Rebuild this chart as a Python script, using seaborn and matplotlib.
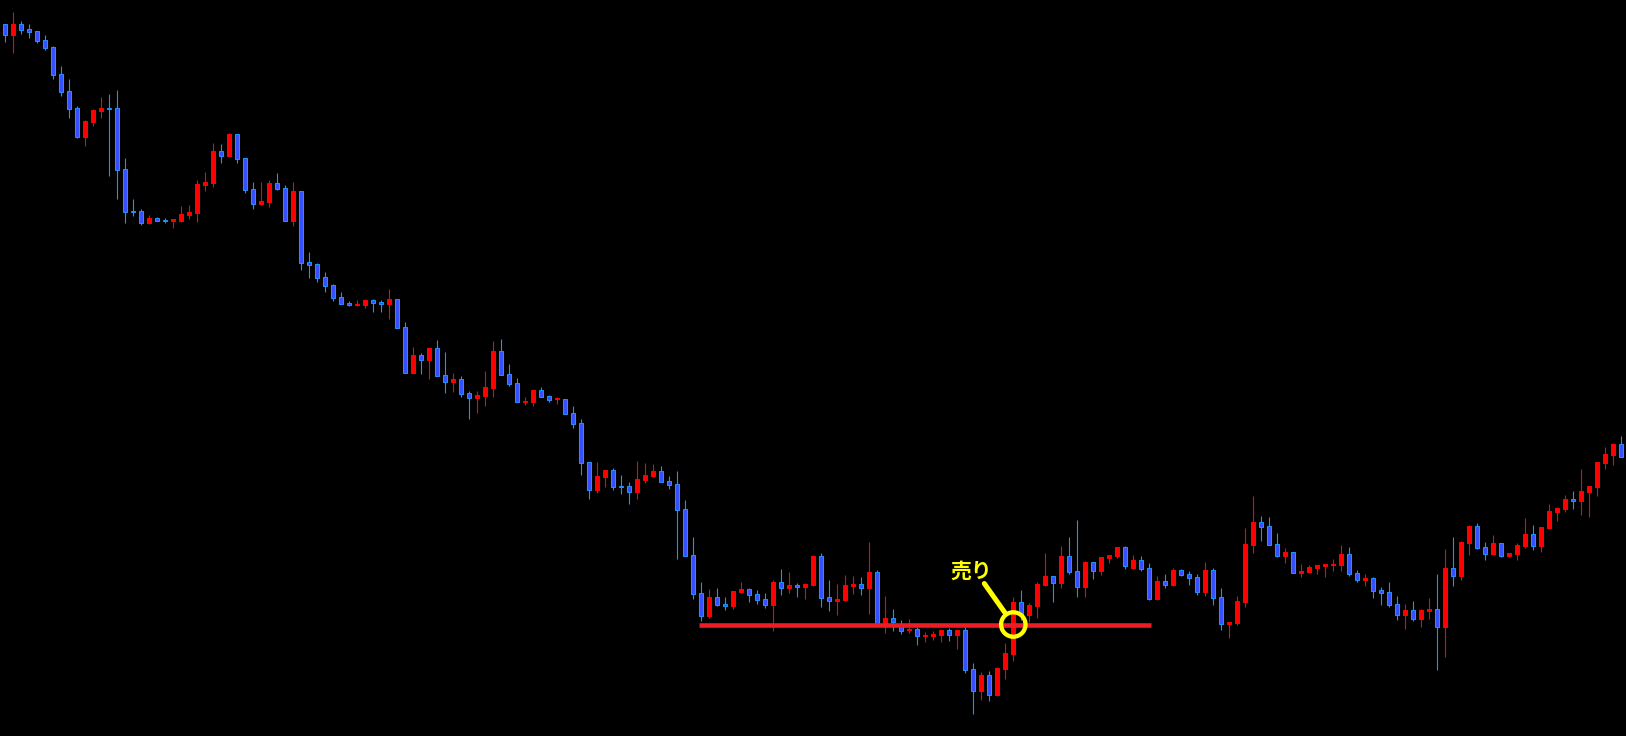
import numpy as np
import pandas as pd
import matplotlib
matplotlib.use("Agg")
import matplotlib.pyplot as plt
import seaborn as sns

sns.set_theme(style="dark", rc={"axes.facecolor": "black", "figure.facecolor": "black"})
plt.rcParams["font.family"] = ["Noto Sans CJK JP", "DejaVu Sans"]

# 4本値 (チャート上の値を読み取ったもの)
opens = [712, 701, 712, 707, 705, 696, 689, 662, 645, 628,
         599, 614.3, 625, 628, 628, 567, 525, 525, 513, 517.7,
         516.5, 515, 515, 521, 523.3, 551, 553, 585, 580.3, 602,
         578, 547, 532.3, 534.3, 553, 548, 515, 545, 474, 472,
         459, 451, 439, 433, 431.3, 431, 436, 434, 432, 437,
         409, 363.3, 381, 376.3, 388, 361, 354.3, 357, 343, 338.3,
         340.3, 348.3, 385, 362, 353, 334.3, 334.3, 346, 340, 337,
         337, 323, 313, 274, 246.3, 259.3, 266, 250, 250, 244.3,
         256.3, 260.3, 265, 255, 252, 227, 181, 143, 120.3, 139,
         132, 130.3, 144, 147, 142, 137, 131.3, 154, 148.3, 151,
         149.3, 151, 180, 139, 135.3, 136.3, 150.3, 152, 148.3, 164,
         110, 118, 112, 105.7, 107, 100, 100.3, 101.3, 106, 101.3,
         106, 67, 45.3, 61, 41.3, 67.3, 82.3, 134.3, 121, 130.3,
         151.3, 160, 153.3, 180, 165, 149.3, 174, 165.3, 178.3, 180.3,
         189, 168.3, 176, 168, 137.3, 155, 151, 166, 162, 159,
         144.3, 166, 139, 112.3, 113.3, 134.3, 191.3, 214, 210, 192,
         180.3, 184, 163.3, 164, 168, 170, 171, 171, 182, 163,
         156, 158, 146, 144, 132, 121.3, 126, 117.3, 125.3, 127,
         109.3, 168, 160.3, 193.3, 210, 189, 182, 193, 180, 182,
         190, 202, 190, 208, 224, 227, 237, 235, 244, 249,
         273, 281, 292]
highs = [712, 724, 715, 712, 705, 701, 690, 670, 657, 630,
         616, 627, 639, 642, 646, 578, 537, 527, 521, 519,
         518, 517, 530.3, 531, 556, 564.3, 593.3, 592.3, 603.3, 602,
         578, 554.3, 554.3, 556, 563.3, 551, 554.3, 545, 484, 472.7,
         464, 452, 444, 435, 436, 437, 437, 436, 447, 437,
         414, 389, 383, 388, 396, 384, 363, 360, 345, 345,
         365, 395, 397, 372, 358, 339.3, 346, 349, 341, 339.3,
         337, 330.3, 317, 274, 274.3, 266, 268, 261, 254, 275,
         273, 272, 270, 260, 265, 236, 199, 154, 147, 148,
         139, 145, 154, 148, 146, 143, 156, 167, 164, 153,
         153, 181, 183, 156, 152, 161, 160, 159, 194, 166,
         140, 127, 116, 117, 109.3, 104, 105, 106, 108, 106,
         109.3, 73.3, 64, 65, 69, 93, 139, 146, 133, 154,
         183, 160, 190, 199, 216, 175, 174, 179, 181, 189,
         190, 181, 180, 173, 160, 162, 168, 167, 165, 162,
         174, 168, 148, 114, 140, 208, 240, 220, 219, 203,
         188, 184, 172, 171, 171, 172, 177, 191, 189, 166,
         162, 159, 149, 154, 140, 132.3, 135, 127, 138.3, 162,
         187, 199, 195, 211, 213, 194, 201, 193, 183, 193,
         218, 211, 209, 232, 229, 241, 245, 267, 250, 274,
         289, 293, 300]
lows = [694.3, 683.3, 702.3, 698.3, 693.3, 686.3, 657.3, 640.3, 618.3, 598.3,
        590.3, 610.3, 618.3, 560.3, 537.3, 513.3, 520.3, 511, 512, 515,
        513.3, 508.3, 514.3, 517, 514.3, 545, 549, 573, 580.3, 573,
        543, 527, 531, 529, 546, 515.3, 510, 466, 458, 454,
        444, 435, 432.3, 430, 430, 428, 424, 424, 417, 408.3,
        363.3, 363.3, 362.3, 357.3, 360.3, 343.3, 344.3, 339.3, 317.3, 323.3,
        330.3, 339.3, 361.3, 350.3, 334.3, 331.3, 330.3, 339.3, 334.3, 332.3,
        322.3, 308.3, 261.3, 237.3, 243.3, 249.3, 246.3, 242.3, 232.3, 237.3,
        253.3, 259.3, 254.3, 247.3, 177.3, 180.3, 137.3, 115.3, 118.3, 130.3,
        126.3, 127.3, 143, 134.3, 132.3, 128.3, 105.3, 141.3, 143.3, 139.3,
        137.3, 150.3, 129.3, 125.3, 121.3, 135.3, 142.3, 141.3, 122.3, 110,
        103.3, 105.5, 102.3, 103.3, 91.3, 94.3, 96.3, 94.3, 95.3, 87.3,
        63.3, 22.3, 36.3, 35.3, 40.3, 57.3, 75.3, 116, 114, 118,
        150.3, 134.3, 148.3, 162.3, 139.3, 139.3, 157.3, 161.3, 173.3, 178.3,
        167.3, 167, 165.3, 136.3, 136.3, 148.3, 150.3, 160.3, 151.3, 141.3,
        140.3, 131.3, 106.3, 98.3, 111.3, 129.3, 183.3, 195.3, 191.3, 179.3,
        173.3, 163.3, 159, 164, 162, 159, 165, 165, 160, 154.3,
        150, 138.3, 131.3, 129.3, 116.3, 107.3, 115.3, 109.3, 117.3, 66.3,
        79.3, 150.3, 156.3, 181.3, 187, 176, 182, 179, 179, 176,
        188, 186, 184, 208, 215, 224, 227, 221, 219, 240,
        267, 271, 279.3]
closes = [701.3, 712, 706.3, 704.3, 695.3, 688.3, 661.3, 644.3, 627.3, 599,
          615, 626, 628.3, 627, 566.3, 524.3, 524, 513.3, 518, 515.3,
          515.5, 517, 522, 524, 552, 554.3, 585, 580.3, 602.3, 577.3,
          546.3, 532.3, 535.3, 553, 547.3, 515.3, 545.3, 473.3, 471.3, 458.3,
          450.3, 438.3, 432.3, 431.3, 432, 436, 433.3, 432.3, 437, 408.3,
          363.3, 381, 376.3, 388, 360.3, 354.3, 357, 342.3, 338.3, 341,
          349, 385, 361.3, 352.3, 334.3, 335.3, 346, 339.3, 336.3, 338,
          322.3, 312.3, 273.3, 246.3, 260.3, 266, 249.3, 249.3, 244.3, 257,
          261, 265, 254.3, 251.3, 226.3, 180.3, 142.3, 120.3, 139, 131.3,
          130.3, 145, 147, 141.3, 136.3, 131.3, 154, 148.3, 151, 149.3,
          152, 180, 138.3, 135.3, 137, 151, 152, 148.3, 164, 111,
          118, 113.7, 105.5, 107.3, 100.3, 101.3, 102.3, 106, 101.3, 106,
          66.3, 45.3, 61, 41.3, 68, 83, 134.3, 121, 131, 152,
          160, 153.3, 180, 164.3, 149.3, 174, 165.3, 179, 181, 189,
          170.3, 176, 167.3, 137.3, 155, 151.3, 166, 161.3, 158.3, 144.3,
          166, 138.3, 112.3, 114, 135, 192, 214, 209.3, 191.3, 180.3,
          184, 163.3, 165.3, 169, 171, 172, 172, 182, 162.3, 156.3,
          158, 145.3, 143.3, 131.3, 121.3, 126, 117.3, 126, 127, 109.3,
          168, 160.3, 194, 210, 188, 182, 193, 180, 183, 191,
          202, 190, 209, 225, 228, 237, 235.3, 245, 250, 274,
          282, 292, 279.3]

# 売りポイント
sell_level = 111.5
line_start, line_end = 86.75, 143.2
sell_bar = 126
sell_label = "売り"

df = pd.DataFrame({"open": opens, "high": highs, "low": lows, "close": closes})
df["idx"] = np.arange(len(df))
df["up"] = df["close"] >= df["open"]

UP_FILL, UP_WICK = "#ff0000", "#ff0000"
DN_FILL, DN_EDGE, DN_WICK = "#3550ff", "#1e90ff", "#1e90ff"
YELLOW = "#ffff00"

fig = plt.figure(figsize=(16.26, 7.36), dpi=100)
ax = fig.add_axes([0, 0, 1, 1])
ax.set_facecolor("black")

for up, g in df.groupby("up"):
    wick = UP_WICK if up else DN_WICK
    fill = UP_FILL if up else DN_FILL
    edge = UP_FILL if up else DN_EDGE
    ax.vlines(g["idx"], g["low"], g["high"], color=wick, lw=0.8, zorder=2)
    ax.bar(g["idx"], (g["close"] - g["open"]).abs(),
           bottom=g[["open", "close"]].min(axis=1),
           width=0.5, color=fill, edgecolor=edge, linewidth=0.75, zorder=3)

# 水平ライン
ax.hlines(sell_level, line_start, line_end, color="#ee1c24", lw=3.3, zorder=4)

# 丸印と吹き出し
sns.scatterplot(x=[sell_bar], y=[sell_level], ax=ax, s=310, marker="o",
                facecolors="none", edgecolor=YELLOW, linewidth=3.1, zorder=5)
ax.annotate("", xy=(sell_bar, sell_level), xytext=(-29, 41),
            textcoords="offset pixels",
            arrowprops=dict(arrowstyle="-", color=YELLOW, lw=3.6,
                            shrinkA=0, shrinkB=10), zorder=5)
ax.annotate(sell_label, xy=(sell_bar, sell_level), xytext=(-42, 53),
            textcoords="offset pixels", ha="center", va="center",
            color=YELLOW, fontsize=15, fontweight="bold",
            family=["Noto Sans CJK JP", "DejaVu Sans"], zorder=5)

ax.set_xlim(-0.6625, 202.5875)
ax.set_ylim(0, 736)
ax.axis("off")

fig.savefig("out.png", dpi=100, facecolor="black")
